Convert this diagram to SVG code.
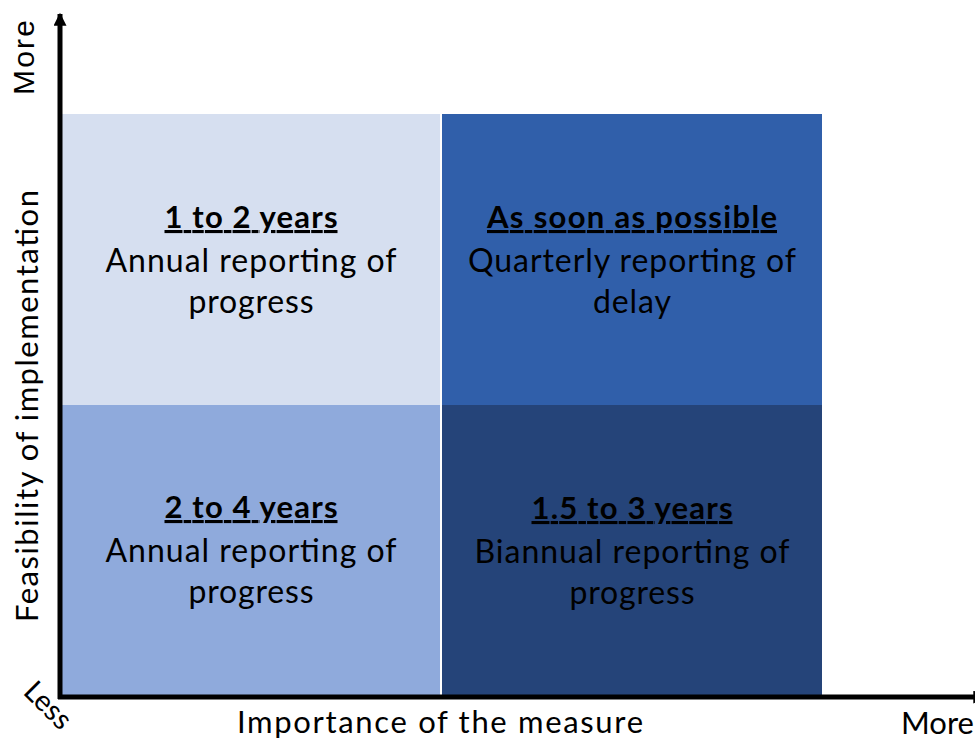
<svg xmlns="http://www.w3.org/2000/svg" width="975" height="740" viewBox="0 0 975 740">
<defs>
<style>
.t{font-family:"Lato","Open Sans","Liberation Sans",sans-serif;fill:#000;text-anchor:middle}
.h{font-weight:bold;font-size:31px;text-decoration:underline}
.b{font-size:32px}
.ax{font-family:"Lato","Open Sans","Liberation Sans",sans-serif;font-size:31px;fill:#000}
.axis{stroke:#000;stroke-width:5;fill:none}
</style>
<marker id="arr" viewBox="0 0 10 10" refX="9" refY="5" markerWidth="3.6" markerHeight="2.6" markerUnits="strokeWidth" orient="auto">
<path d="M0,0 L10,5 L0,10 z" fill="#000"/>
</marker>
</defs>
<rect width="975" height="740" fill="#fff"/>
<g id="q-top-left">
<rect x="62" y="114" width="378" height="291" fill="#D6DFF0"/>
<text class="t h" x="251" y="228" textLength="173">1 to 2 years</text>
<text class="t b" x="251" y="272" textLength="291">Annual reporting of</text>
<text class="t b" x="251" y="313" textLength="125">progress</text>
</g>
<g id="q-top-right">
<rect x="442" y="114" width="380" height="291" fill="#305FAA"/>
<text class="t h" x="632" y="228" textLength="290">As soon as possible</text>
<text class="t b" x="632" y="272" textLength="328">Quarterly reporting of</text>
<text class="t b" x="632" y="313" textLength="78">delay</text>
</g>
<g id="q-bottom-left">
<rect x="62" y="405" width="378" height="292" fill="#8FAADC"/>
<text class="t h" x="251" y="518" textLength="173">2 to 4 years</text>
<text class="t b" x="251" y="562" textLength="291">Annual reporting of</text>
<text class="t b" x="251" y="603" textLength="125">progress</text>
</g>
<g id="q-bottom-right">
<rect x="442" y="405" width="380" height="292" fill="#254479"/>
<text class="t h" x="632" y="519" textLength="201">1.5 to 3 years</text>
<text class="t b" x="632" y="563" textLength="315">Biannual reporting of</text>
<text class="t b" x="632" y="604" textLength="125">progress</text>
</g>
<g id="connectors">
<line class="axis" x1="60" y1="699" x2="60" y2="14" marker-end="url(#arr)"/>
<line class="axis" x1="58" y1="697" x2="985" y2="697" marker-end="url(#arr)"/>
</g>
<g id="labels">
<text class="ax" x="237" y="733" textLength="406">Importance of the measure</text>
<text class="ax" x="901" y="734">More</text>
<text class="ax" transform="translate(38,622) rotate(-90)" textLength="432">Feasibility of implementation</text>
<text style="font-family:'Liberation Sans',Arial,sans-serif;font-size:30px" transform="translate(34,95) rotate(-90)" textLength="75">More</text>
<text class="ax" transform="translate(22,693) rotate(45)" style="font-size:29px">Less</text>
</g>
</svg>
